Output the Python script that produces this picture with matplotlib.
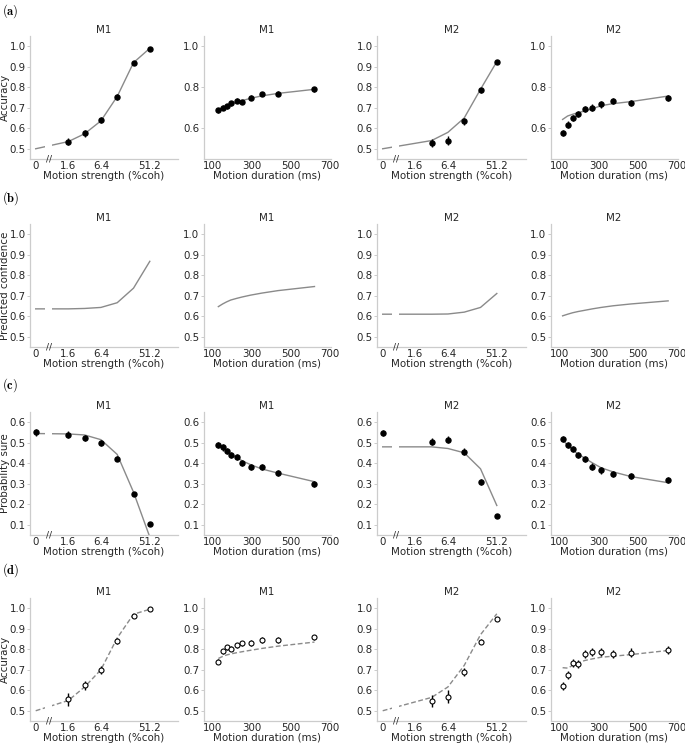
import numpy as np
import matplotlib
matplotlib.use("Agg")
import matplotlib.pyplot as plt
import matplotlib.transforms as mtransforms

plt.rcParams['font.family'] = ['DejaVu Sans']
plt.rcParams['mathtext.fontset'] = 'cm'

# ---------------- data ----------------
coh_m1 = [1.6, 3.2, 6.4, 12.8, 25.6, 51.2]
coh_m2 = [3.2, 6.4, 12.8, 25.6, 51.2]
coh0_m1 = [0, 1.6, 3.2, 6.4, 12.8, 25.6, 51.2]
coh0_m2 = [0, 3.2, 6.4, 12.8, 25.6, 51.2]
dur_m1 = [131, 153, 173, 194, 224, 253, 296, 354, 436, 623]
dur_m2 = [117, 143, 168, 196, 230, 269, 314, 375, 467, 657]

# (a) accuracy
acc_coh_m1 = [0.535, 0.575, 0.639, 0.752, 0.920, 0.989]
acc_coh_m1_err = [0.018, 0.018, 0.015, 0.013, 0.008, 0.004]
acc_coh_m1_fit = [0.500, 0.535, 0.573, 0.636, 0.755, 0.920, 0.990]
acc_dur_m1 = [0.687, 0.700, 0.708, 0.722, 0.735, 0.728, 0.748, 0.767, 0.769, 0.791]
acc_dur_m1_err = [0.012] * 10
acc_dur_m1_fit = [0.690, 0.700, 0.709, 0.717, 0.727, 0.735, 0.746, 0.758, 0.770, 0.790]
acc_coh_m2 = [0.529, 0.540, 0.635, 0.785, 0.923]
acc_coh_m2_err = [0.020, 0.020, 0.017, 0.013, 0.006]
acc_coh_m2_fit = [0.500, 0.540, 0.580, 0.650, 0.790, 0.925]
acc_dur_m2 = [0.577, 0.618, 0.651, 0.669, 0.692, 0.701, 0.716, 0.733, 0.724, 0.746]
acc_dur_m2_err = [0.015] * 10
acc_dur_m2_fit = [0.643, 0.660, 0.668, 0.676, 0.684, 0.695, 0.710, 0.720, 0.730, 0.757]

# (b) predicted confidence
conf_coh_m1 = [0.636, 0.636, 0.638, 0.643, 0.666, 0.737, 0.868]
conf_dur_m1 = [0.647, 0.660, 0.670, 0.679, 0.687, 0.694, 0.703, 0.713, 0.725, 0.745]
conf_coh_m2 = [0.610, 0.610, 0.611, 0.620, 0.643, 0.711]
conf_dur_m2 = [0.602, 0.610, 0.617, 0.623, 0.629, 0.636, 0.643, 0.651, 0.660, 0.675]

# (c) probability sure
sure_coh_m1 = [0.550, 0.540, 0.524, 0.498, 0.421, 0.251, 0.103]
sure_coh_m1_err = [0.015, 0.015, 0.015, 0.015, 0.012, 0.010, 0.006]
sure_coh_m1_fit = [0.545, 0.543, 0.538, 0.515, 0.443, 0.259, 0.040]
sure_dur_m1 = [0.491, 0.477, 0.460, 0.441, 0.430, 0.402, 0.381, 0.381, 0.352, 0.298]
sure_dur_m1_err = [0.015] * 10
sure_dur_m1_fit = [0.497, 0.475, 0.458, 0.445, 0.428, 0.412, 0.393, 0.372, 0.352, 0.310]
sure_coh_m2 = [0.548, 0.506, 0.514, 0.457, 0.308, 0.145]
sure_coh_m2_err = [0.015, 0.018, 0.017, 0.016, 0.013, 0.008]
sure_coh_m2_fit = [0.480, 0.480, 0.472, 0.451, 0.373, 0.194]
sure_dur_m2 = [0.520, 0.490, 0.470, 0.439, 0.421, 0.384, 0.365, 0.348, 0.337, 0.319]
sure_dur_m2_err = [0.015] * 10
sure_dur_m2_fit = [0.515, 0.487, 0.465, 0.445, 0.425, 0.402, 0.378, 0.358, 0.335, 0.305]

# (d) accuracy (second)
acc2_coh_m1 = [0.555, 0.624, 0.698, 0.842, 0.963, 0.995]
acc2_coh_m1_err = [0.030, 0.022, 0.020, 0.015, 0.005, 0.003]
acc2_coh_m1_fit = [0.500, 0.550, 0.616, 0.700, 0.855, 0.971, 0.995]
acc2_dur_m1 = [0.739, 0.790, 0.810, 0.803, 0.819, 0.829, 0.831, 0.845, 0.845, 0.858]
acc2_dur_m1_err = [0.013] * 10
acc2_dur_m1_fit = [0.755, 0.765, 0.772, 0.777, 0.783, 0.788, 0.795, 0.804, 0.815, 0.835]
acc2_coh_m2 = [0.548, 0.569, 0.689, 0.837, 0.947]
acc2_coh_m2_err = [0.030, 0.030, 0.020, 0.012, 0.005]
acc2_coh_m2_fit = [0.500, 0.565, 0.616, 0.721, 0.871, 0.973]
acc2_dur_m2 = [0.621, 0.674, 0.731, 0.729, 0.777, 0.787, 0.787, 0.776, 0.784, 0.795]
acc2_dur_m2_err = [0.020] * 10
acc2_dur_m2_fit = [0.710, 0.708, 0.721, 0.734, 0.745, 0.753, 0.761, 0.766, 0.774, 0.794]

coh_ticks = [0, 1.6, 6.4, 51.2]
coh_ticklabels = ["0", "1.6", "6.4", "51.2"]
dur_ticks = [100, 300, 500, 700]
row_labels = ["(a)", "(b)", "(c)", "(d)"]
ylabels = ["Accuracy", "Predicted confidence", "Probability sure", "Accuracy"]
titles = ["M1", "M1", "M2", "M2"]

# ---------------- layout ----------------
W, H = 685, 745
fig = plt.figure(figsize=(W / 100, H / 100), dpi=100)

col_left = [30, 203.5, 377, 550.5]
col_w = [148, 127, 149, 127]
row_top = [36, 224, 412, 598]
ax_h = 123

ZERO_POS = np.log2(0.4)
PX_PER_OCT = 16.3


def cpos(c):
    c = np.asarray(c, dtype=float)
    out = np.full(c.shape, ZERO_POS)
    m = c > 0
    out[m] = np.log2(c[m])
    return out


LINE_C = "#8a8a8a"
SPINE_C = "#cccccc"
TXT_C = "#262626"
FS = 7.4


def style(ax):
    for s in ["top", "right"]:
        ax.spines[s].set_visible(False)
    for s in ["left", "bottom"]:
        ax.spines[s].set_color(SPINE_C)
        ax.spines[s].set_linewidth(0.9)
    ax.tick_params(axis="y", length=2, width=0.7, color=SPINE_C, pad=1.0,
                   labelsize=FS, labelcolor=TXT_C)
    ax.tick_params(axis="x", length=0, pad=1.2, labelsize=FS, labelcolor=TXT_C)


def coh_axis(ax, ylim, yticks, width_px):
    left = ZERO_POS - 0.35
    ax.set_xlim(left, left + width_px / PX_PER_OCT)
    ax.set_xticks(cpos(coh_ticks))
    ax.set_xticklabels(coh_ticklabels)
    ax.set_xlabel("Motion strength (%coh)", fontsize=FS, color=TXT_C, labelpad=0)
    ax.set_ylim(*ylim)
    ax.set_yticks(yticks)
    # axis break
    tr = mtransforms.blended_transform_factory(ax.transData, ax.transAxes)
    ax.axvspan(ZERO_POS + 0.55, ZERO_POS + 0.97, ymin=0.02, ymax=1,
               color="white", zorder=2.1, lw=0)
    ax.text(ZERO_POS + 0.82, 0.0, "//", transform=tr, ha="center", va="center",
            fontsize=6.5, color=TXT_C, zorder=5)


def dur_axis(ax, ylim, yticks):
    ax.set_xlim(55, 705)
    ax.set_xticks(dur_ticks)
    ax.set_xlabel("Motion duration (ms)", fontsize=FS, color=TXT_C, labelpad=0)
    ax.set_ylim(*ylim)
    ax.set_yticks(yticks)


def fmt_ticks(ax):
    ax.set_yticklabels([f"{t:.1f}" for t in ax.get_yticks()])


def pts(ax, x, y, e, open_=False):
    if open_:
        ax.errorbar(x, y, yerr=e, fmt="o", ms=3.6, mfc="white", mec="black",
                    mew=0.8, ecolor="black", elinewidth=1.0, capsize=0, zorder=3)
    else:
        ax.errorbar(x, y, yerr=e, fmt="o", ms=3.6, color="black",
                    ecolor="black", elinewidth=1.0, capsize=0, zorder=3)


def fit(ax, x, y, dashed=False):
    ax.plot(x, y, color=LINE_C, lw=1.0, ls=(0, (3.5, 1.8)) if dashed else "-",
            zorder=2)


axes = [[None] * 4 for _ in range(4)]
for r in range(4):
    for c in range(4):
        ax = fig.add_axes([col_left[c] / W, 1 - (row_top[r] + ax_h) / H,
                           col_w[c] / W, ax_h / H])
        style(ax)
        ax.set_title(titles[c], fontsize=FS, color=TXT_C, pad=2.5)
        axes[r][c] = ax

acc_t = [0.5, 0.6, 0.7, 0.8, 0.9, 1.0]
acc_t2 = [0.6, 0.8, 1.0]
sure_t = [0.1, 0.2, 0.3, 0.4, 0.5, 0.6]

# row a
ax = axes[0][0]; coh_axis(ax, (0.45, 1.05), acc_t, col_w[0])
fit(ax, cpos(coh0_m1), acc_coh_m1_fit); pts(ax, cpos(coh_m1), acc_coh_m1, acc_coh_m1_err)
ax = axes[0][1]; dur_axis(ax, (0.45, 1.05), acc_t2)
fit(ax, dur_m1, acc_dur_m1_fit); pts(ax, dur_m1, acc_dur_m1, acc_dur_m1_err)
ax = axes[0][2]; coh_axis(ax, (0.45, 1.05), acc_t, col_w[2])
fit(ax, cpos(coh0_m2), acc_coh_m2_fit); pts(ax, cpos(coh_m2), acc_coh_m2, acc_coh_m2_err)
ax = axes[0][3]; dur_axis(ax, (0.45, 1.05), acc_t2)
fit(ax, dur_m2, acc_dur_m2_fit); pts(ax, dur_m2, acc_dur_m2, acc_dur_m2_err)

# row b
ax = axes[1][0]; coh_axis(ax, (0.45, 1.05), acc_t, col_w[0]); fit(ax, cpos(coh0_m1), conf_coh_m1)
ax = axes[1][1]; dur_axis(ax, (0.45, 1.05), acc_t); fit(ax, dur_m1, conf_dur_m1)
ax = axes[1][2]; coh_axis(ax, (0.45, 1.05), acc_t, col_w[2]); fit(ax, cpos(coh0_m2), conf_coh_m2)
ax = axes[1][3]; dur_axis(ax, (0.45, 1.05), acc_t); fit(ax, dur_m2, conf_dur_m2)

# row c
ax = axes[2][0]; coh_axis(ax, (0.05, 0.65), sure_t, col_w[0])
fit(ax, cpos(coh0_m1), sure_coh_m1_fit); pts(ax, cpos(coh0_m1), sure_coh_m1, sure_coh_m1_err)
ax = axes[2][1]; dur_axis(ax, (0.05, 0.65), sure_t)
fit(ax, dur_m1, sure_dur_m1_fit); pts(ax, dur_m1, sure_dur_m1, sure_dur_m1_err)
ax = axes[2][2]; coh_axis(ax, (0.05, 0.65), sure_t, col_w[2])
fit(ax, cpos(coh0_m2), sure_coh_m2_fit); pts(ax, cpos(coh0_m2), sure_coh_m2, sure_coh_m2_err)
ax = axes[2][3]; dur_axis(ax, (0.05, 0.65), sure_t)
fit(ax, dur_m2, sure_dur_m2_fit); pts(ax, dur_m2, sure_dur_m2, sure_dur_m2_err)

# row d
ax = axes[3][0]; coh_axis(ax, (0.45, 1.05), acc_t, col_w[0])
fit(ax, cpos(coh0_m1), acc2_coh_m1_fit, True); pts(ax, cpos(coh_m1), acc2_coh_m1, acc2_coh_m1_err, True)
ax = axes[3][1]; dur_axis(ax, (0.45, 1.05), acc_t)
fit(ax, dur_m1, acc2_dur_m1_fit, True); pts(ax, dur_m1, acc2_dur_m1, acc2_dur_m1_err, True)
ax = axes[3][2]; coh_axis(ax, (0.45, 1.05), acc_t, col_w[2])
fit(ax, cpos(coh0_m2), acc2_coh_m2_fit, True); pts(ax, cpos(coh_m2), acc2_coh_m2, acc2_coh_m2_err, True)
ax = axes[3][3]; dur_axis(ax, (0.45, 1.05), acc_t)
fit(ax, dur_m2, acc2_dur_m2_fit, True); pts(ax, dur_m2, acc2_dur_m2, acc2_dur_m2_err, True)

for r in range(4):
    for c in range(4):
        fmt_ticks(axes[r][c])
    axes[r][0].set_ylabel(ylabels[r], fontsize=FS, color=TXT_C)
    axes[r][0].yaxis.set_label_coords((10.0 - col_left[0]) / col_w[0], 0.5)

label_y = [2, 189, 376, 561]
for r in range(4):
    fig.text(1.5 / W, 1 - label_y[r] / H, r"$\mathbf{" + row_labels[r] + "}$",
             fontsize=9, ha="left", va="top", color="black")

fig.savefig("out.png", dpi=100, facecolor="white")
